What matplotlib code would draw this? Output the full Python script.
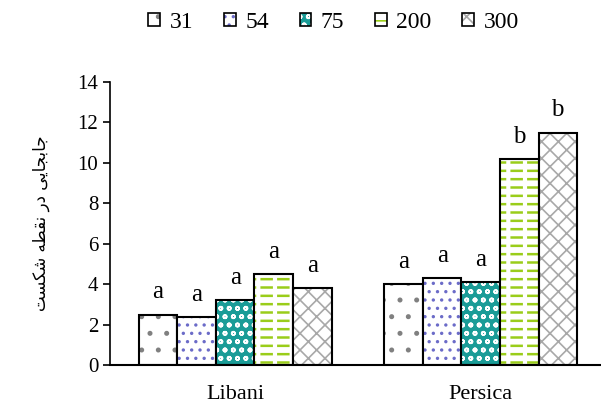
import matplotlib
matplotlib.use("Agg")
import matplotlib.pyplot as plt
import numpy as np
from matplotlib.patches import Patch

# data
species = ["Libani", "Persica"]
levels = ["31", "54", "75", "200", "300"]
values = [
    [2.5, 4.0],
    [2.4, 4.3],
    [3.2, 4.1],
    [4.5, 10.2],
    [3.8, 11.5],
]
letters = [
    ["a", "a"],
    ["a", "a"],
    ["a", "a"],
    ["a", "b"],
    ["a", "b"],
]

# persian y label, shaped by hand (presentation forms, reversed for LTR drawing)
ylab = "\uFE9F\uFE8E\uFE91\uFEA0\uFE8E\uFEF3\uFEF0 \uFEA9\uFEAD \uFEE7\uFED8\uFEC4\uFEEA \uFEB7\uFEDC\uFEB4\uFE96"
ylab = ylab[::-1]

faces = ["white", "white", "#1a9c97", "white", "white"]
hcols = ["#808080", "#6b6bc8", "white", "#9acd1a", "#a8a8a8"]
hatches = [".", "..", "oo", "--", "xx"]
hlw = [1.2, 1.2, 1.2, 1.8, 1.2]

serif = "Liberation Serif"

fig = plt.figure(figsize=(6.01, 4.08), dpi=100)
ax = fig.add_axes([0.183, 0.105, 0.817, 0.694])

x = np.arange(len(species))
w = 0.157
handles = []
for i in range(len(levels)):
    pos = x + (i - 2) * w + 0.01
    plt.rcParams["hatch.linewidth"] = hlw[i]
    ax.bar(pos, values[i], w, color=faces[i], edgecolor=hcols[i], hatch=hatches[i], linewidth=0)
    if levels[i] == "200":
        # cut the lines into dashes
        plt.rcParams["hatch.linewidth"] = 3
        ax.bar(pos, values[i], w, fill=False, edgecolor="white", hatch="|", linewidth=0)
    plt.rcParams["hatch.linewidth"] = hlw[i]
    ax.bar(pos, values[i], w, fill=False, edgecolor="black", linewidth=1.5)
    for j in range(len(species)):
        ax.annotate(letters[i][j], (pos[j], values[i][j]), xytext=(0, 8), textcoords="offset points",
                    ha="center", va="bottom", fontsize=18, family=serif)
    p1 = Patch(facecolor=faces[i], edgecolor=hcols[i], hatch=hatches[i], linewidth=0)
    p2 = Patch(fill=False, edgecolor="black", linewidth=1.2)
    handles.append((p1, p2))
plt.rcParams["hatch.linewidth"] = 1.2

ax.set_xlim(-0.5, 1.5)
ax.set_ylim(0, 14)
ax.set_yticks(range(0, 15, 2))
ax.set_xticks(x + 0.01)
ax.set_xticklabels(species, fontsize=16, family=serif)
for t in ax.get_yticklabels():
    t.set_family(serif)
    t.set_fontsize(15)
ax.tick_params(axis="x", length=0, pad=14)
ax.tick_params(axis="y", length=5, width=1.2, direction="out")
ax.spines["top"].set_visible(False)
ax.spines["right"].set_visible(False)
ax.spines["left"].set_linewidth(1.2)
ax.spines["bottom"].set_linewidth(1.5)
ax.set_ylabel(ylab, fontsize=12, family=["DejaVu Sans"], labelpad=20)

fig.legend(handles, levels, loc="center", bbox_to_anchor=(0.555, 0.945), ncol=5, frameon=False,
           prop={"family": serif, "size": 17}, handlelength=0.5, handleheight=0.5,
           handletextpad=0.4, columnspacing=1.3)

fig.savefig("out.png", dpi=100)
